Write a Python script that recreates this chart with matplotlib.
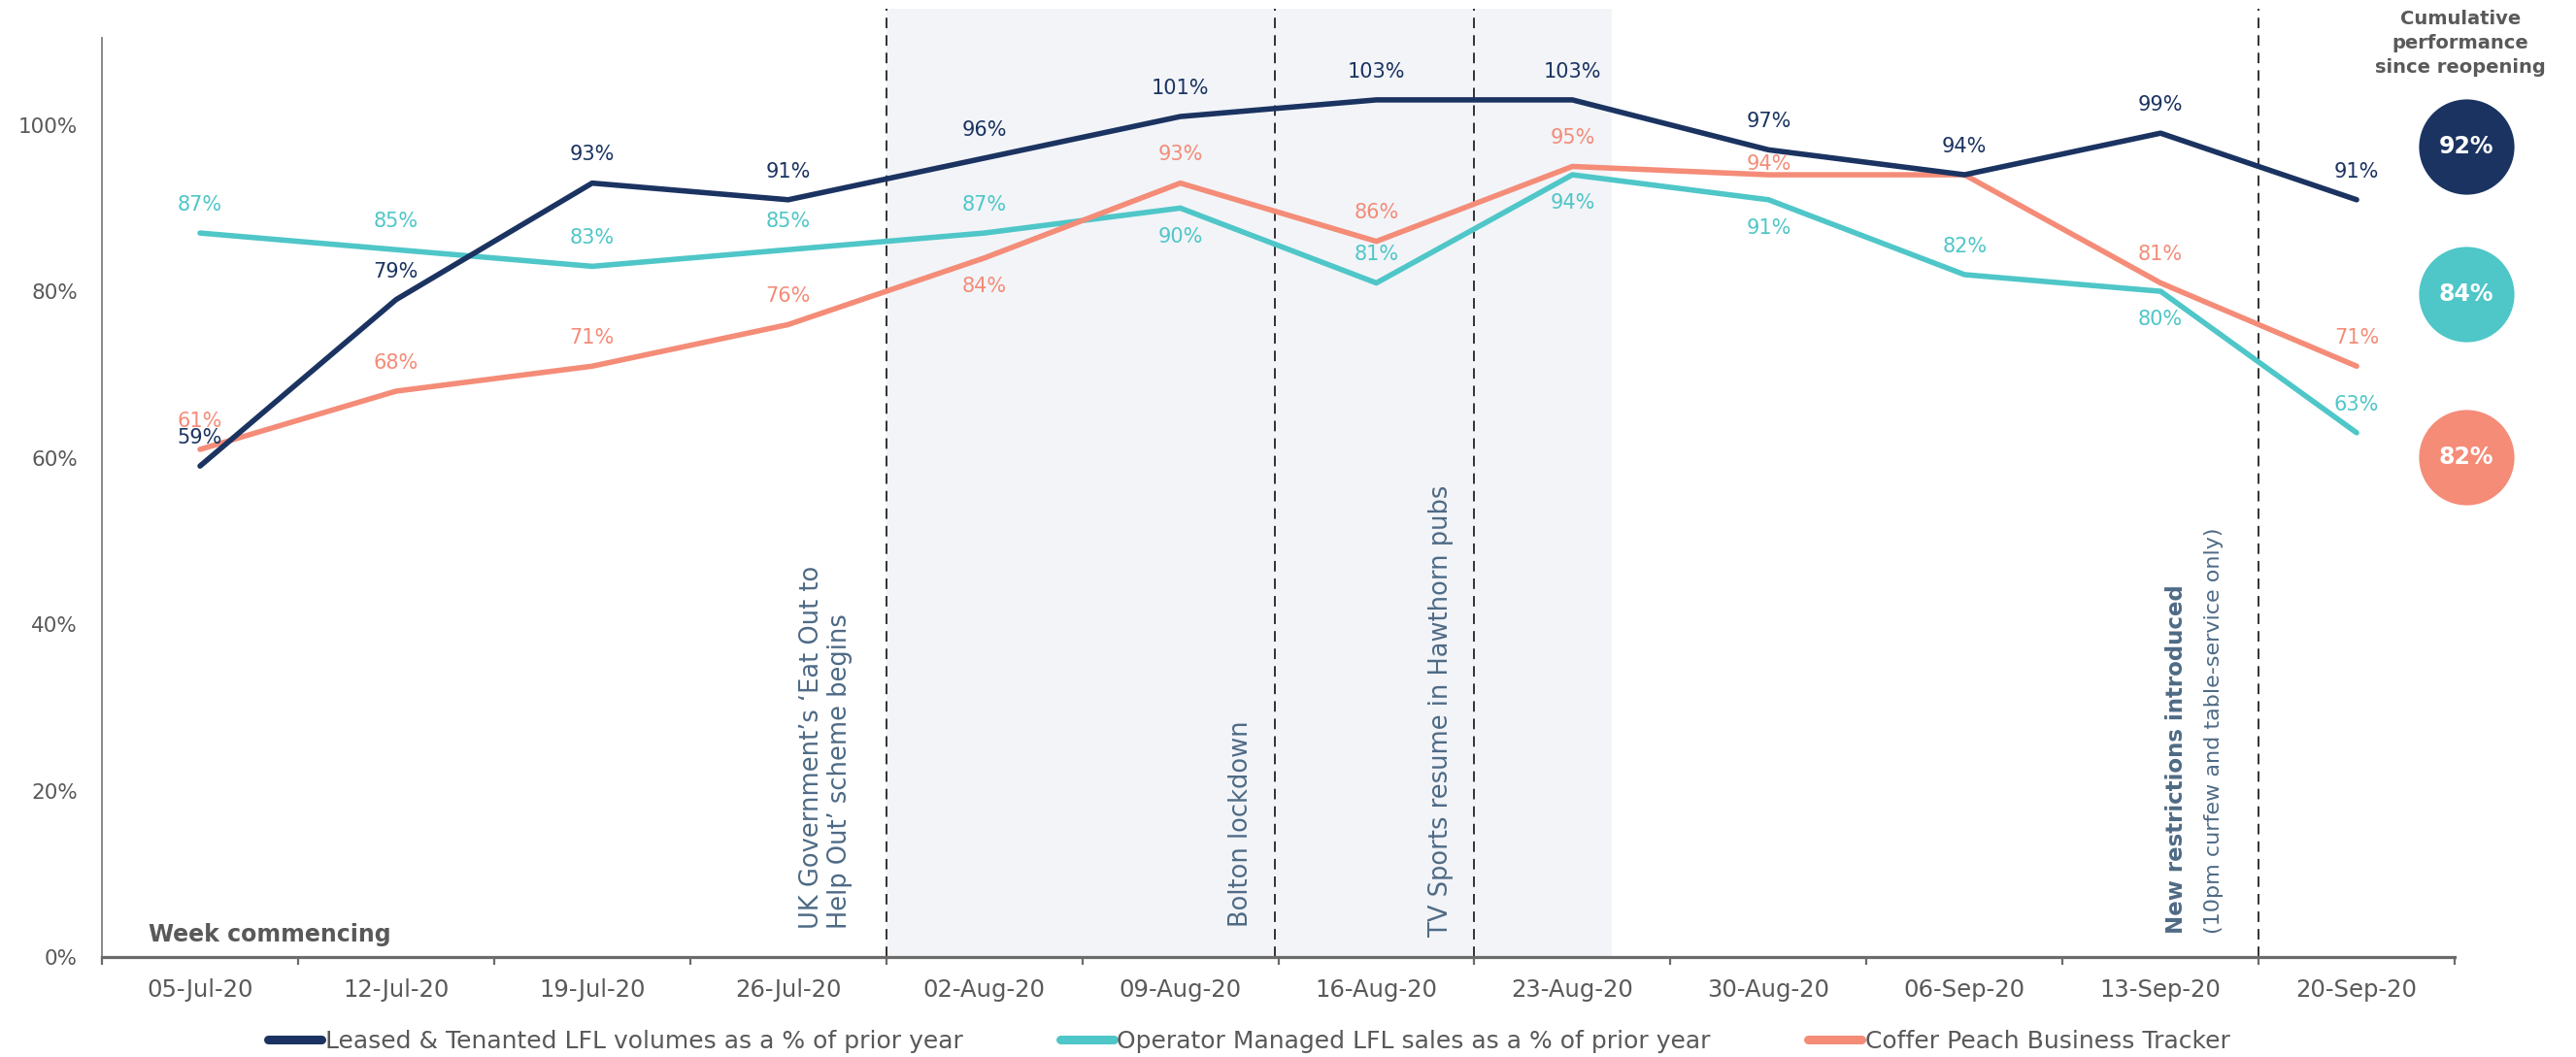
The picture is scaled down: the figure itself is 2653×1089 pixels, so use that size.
import numpy as np
import matplotlib
matplotlib.use("Agg")
import matplotlib.pyplot as plt
from matplotlib.lines import Line2D

plt.rcParams['font.family'] = ['DejaVu Sans']

# --- data ---
weeks = ['05-Jul-20', '12-Jul-20', '19-Jul-20', '26-Jul-20', '02-Aug-20', '09-Aug-20',
         '16-Aug-20', '23-Aug-20', '30-Aug-20', '06-Sep-20', '13-Sep-20', '20-Sep-20']
leased = [59, 79, 93, 91, 96, 101, 103, 103, 97, 94, 99, 91]
managed = [87, 85, 83, 85, 87, 90, 81, 94, 91, 82, 80, 63]
coffer = [61, 68, 71, 76, 84, 93, 86, 95, 94, 94, 81, 71]
cumulative = [92, 84, 82]

series_names = ['Leased & Tenanted LFL volumes as a % of prior year',
                'Operator Managed LFL sales as a % of prior year',
                'Coffer Peach Business Tracker']

events = [3.5, 5.48, 6.5, 10.5]
shade_span = (3.5, 7.2)

# --- style ---
NAVY = '#1B3361'
TEAL = '#4FC6C8'
SALMON = '#F48C78'
GREY = '#595959'
SLATE = '#4E6A85'

# label offsets in points (+ above, - below, None = no label)
off_leased = [21] * 12
off_managed = [21, 21, 21, 21, 21, -21, 21, -21, -21, 21, -21, 21]
off_coffer = [21, 21, 21, 21, -21, 21, 21, 21, 8, None, 21, 21]

fig = plt.figure(figsize=(26.53, 10.89), dpi=100)
ax = fig.add_axes([0.0396, 0.0946, 0.9133, 0.8975])

x = np.arange(len(weeks))
ax.axvspan(*shade_span, color='#F2F4F8', zorder=0, lw=0)
for ev in events:
    ax.axvline(ev, color='#222222', lw=1.3, ls=(0, (6, 4)), zorder=1)

for vals, col, offs in [(managed, TEAL, off_managed), (coffer, SALMON, off_coffer),
                        (leased, NAVY, off_leased)]:
    ax.plot(x, vals, color=col, lw=4, zorder=3, solid_capstyle='round')
    for xi, v, o in zip(x, vals, offs):
        if o is None:
            continue
        ax.annotate(f'{v}%', (xi, v), xytext=(0, o), textcoords='offset points',
                    ha='center', va='center', color=col, fontsize=15, zorder=4)

ax.set_xlim(-0.5, 11.5)
ax.set_ylim(0, 114)
for s in ['top', 'right']:
    ax.spines[s].set_visible(False)
ax.spines['left'].set_bounds(0, 110.5)
ax.spines['left'].set_color('#7f7f7f')
ax.spines['left'].set_linewidth(1.3)
ax.spines['bottom'].set_color('#6b6b6b')
ax.spines['bottom'].set_linewidth(2.3)

ax.set_yticks(range(0, 101, 20))
ax.set_yticklabels([f'{t}%' for t in range(0, 101, 20)])
ax.tick_params(axis='y', length=0, pad=18, labelsize=15.5, labelcolor=GREY)
ax.set_xticks(x)
ax.set_xticklabels(weeks)
ax.tick_params(axis='x', which='major', length=0, pad=16, labelsize=17.5, labelcolor=GREY)
ax.set_xticks(np.arange(-0.5, 12, 1), minor=True)
ax.tick_params(axis='x', which='minor', length=6, width=1.6, color='#6b6b6b')

ax.text(-0.265, 2.7, 'Week commencing', ha='left', va='center', fontsize=17,
        color=GREY, fontweight='semibold')

# event annotations
ax.text(3.19, 3.4, 'UK Government\u2019s \u2018Eat Out to\nHelp Out\u2019 scheme begins',
        rotation=90, ha='center', va='bottom', multialignment='left',
        fontsize=18.5, color=SLATE, linespacing=1.15, zorder=2)
ax.text(5.31, 3.6, 'Bolton lockdown', rotation=90, ha='center', va='bottom',
        fontsize=18.5, color=SLATE, zorder=2)
ax.text(6.33, 2.45, 'TV Sports resume in Hawthorn pubs', rotation=90, ha='center',
        va='bottom', fontsize=18.5, color=SLATE, zorder=2)
ax.text(10.08, 2.8, 'New restrictions introduced', rotation=90, ha='center',
        va='bottom', fontsize=16.5, color=SLATE, fontweight='bold', zorder=2)
ax.text(10.27, 2.8, '(10pm curfew and table-service only)', rotation=90, ha='center',
        va='bottom', fontsize=16, color=SLATE, zorder=2)

# cumulative performance circles
ax.text(11.53, 113.8, 'Cumulative\nperformance\nsince reopening', ha='center', va='top',
        fontsize=14, color=GREY, fontweight='semibold', linespacing=1.4)
circle_y = [97.4, 79.7, 60.1]
for cy, val, col in zip(circle_y, cumulative, [NAVY, TEAL, SALMON]):
    ax.scatter([11.56], [cy], s=5000, color=col, clip_on=False, zorder=5, lw=0)
    ax.text(11.56, cy, f'{val}%', ha='center', va='center', color='white',
            fontsize=17, fontweight='semibold', zorder=6)

handles = [Line2D([0], [0], color=c, lw=6.5, solid_capstyle='round') for c in [NAVY, TEAL, SALMON]]
fig.legend(handles, series_names, loc='center', bbox_to_anchor=(0.4848, 0.0147),
           ncol=3, frameon=False, fontsize=18, handlelength=2.2, handletextpad=0.15,
           columnspacing=4.0, labelcolor=GREY, borderpad=0)

fig.savefig('out.png', dpi=100)
